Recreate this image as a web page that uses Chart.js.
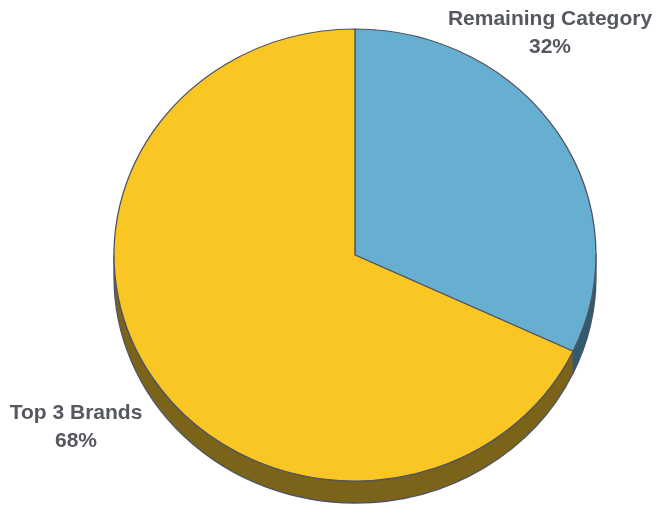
<!DOCTYPE html>
<html>
<head>
<meta charset="utf-8">
<script src="https://cdn.jsdelivr.net/npm/chart.js@4"></script>
<style>
  html, body { margin: 0; padding: 0; background: #ffffff; }
  #wrap { width: 658px; height: 506px; position: relative; }
</style>
</head>
<body>
<div id="wrap"><canvas id="c" width="658" height="506"></canvas></div>
<script>
// Share of category: remaining category vs. the top three brands
const categories = ['Remaining Category', 'Top 3 Brands'];
const shares = [32, 68];
const topColors = ['#67afd0', '#fac624'];
const sideColors = ['#305a6e', '#7c631a'];

const EDGE = '#4f5560';
const TILT = 226 / 241;   // vertical squash of the pie face
const DEPTH = 22;         // thickness of the pie wall

// Draws the visible wall under the pie, then squashes the face into an ellipse
const tiltedPie = {
  id: 'tiltedPie',
  beforeDatasetsDraw(chart) {
    const ctx = chart.ctx;
    const arcs = chart.getDatasetMeta(0).data;
    ctx.save();
    arcs.forEach((arc, i) => {
      const { x, y, startAngle, endAngle, outerRadius } = arc.getProps(['x', 'y', 'startAngle', 'endAngle', 'outerRadius'], true);
      const ry = outerRadius * TILT;
      // front half of the ellipse only (canvas angles 0..PI)
      for (let k = -1; k <= 1; k++) {
        const a1 = Math.max(startAngle, k * 2 * Math.PI);
        const a2 = Math.min(endAngle, k * 2 * Math.PI + Math.PI);
        if (a2 <= a1) continue;
        ctx.beginPath();
        ctx.ellipse(x, y, outerRadius, ry, 0, a1, a2, false);
        ctx.lineTo(x + outerRadius * Math.cos(a2), y + ry * Math.sin(a2) + DEPTH);
        ctx.ellipse(x, y + DEPTH, outerRadius, ry, 0, a2, a1, true);
        ctx.closePath();
        ctx.fillStyle = sideColors[i];
        ctx.fill();
        ctx.lineWidth = 1.3;
        ctx.strokeStyle = EDGE;
        ctx.lineJoin = 'round';
        ctx.stroke();
      }
    });
    ctx.restore();
    const a0 = arcs[0];
    ctx.save();
    ctx.translate(a0.x, a0.y);
    ctx.scale(1, TILT);
    ctx.translate(-a0.x, -a0.y);
  },
  afterDatasetsDraw(chart) {
    chart.ctx.restore();
  },
  afterDraw(chart) {
    const ctx = chart.ctx;
    ctx.save();
    ctx.fillStyle = '#55585f';
    ctx.font = "bold 21px 'Liberation Sans', Arial, sans-serif";
    ctx.textAlign = 'center';
    ctx.textBaseline = 'alphabetic';
    const spots = [[550, 25], [76, 419]];
    categories.forEach((name, i) => {
      const [lx, ly] = spots[i];
      ctx.fillText(name, lx, ly);
      ctx.fillText(shares[i] + '%', lx, ly + 28);
    });
    ctx.restore();
  }
};

new Chart(document.getElementById('c'), {
  type: 'pie',
  data: {
    labels: categories,
    datasets: [{
      data: shares,
      backgroundColor: topColors,
      borderColor: EDGE,
      borderWidth: 1.3,
      borderJoinStyle: 'round',
      clip: false
    }]
  },
  options: {
    responsive: false,
    animation: false,
    events: [],
    radius: 241,
    rotation: 0,
    layout: { padding: { left: 114, right: 62, top: 14, bottom: 10 } },
    plugins: {
      legend: { display: false },
      tooltip: { enabled: false },
      title: { display: false }
    }
  },
  plugins: [tiltedPie]
});
</script>
</body>
</html>
